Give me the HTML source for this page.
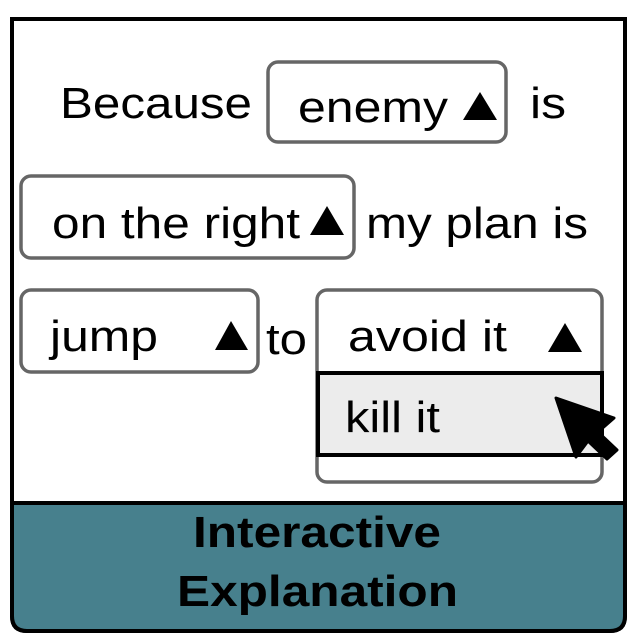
<!DOCTYPE html>
<html><head><style>html,body{margin:0;padding:0;background:#fff;}svg{display:block}</style></head>
<body>
<svg width="641" height="644" xmlns="http://www.w3.org/2000/svg" font-family="Liberation Sans, sans-serif">
<path d="M12,19 H625 V616 Q625,631 610,631 H27 Q12,631 12,616 Z" fill="#fff" stroke="#000" stroke-width="4"/>
<path d="M12,503 H625 V616 Q625,631 610,631 H27 Q12,631 12,616 Z" fill="#47808d" stroke="#000" stroke-width="4"/>
<text x="193" y="547" font-size="44" font-weight="bold" textLength="248" lengthAdjust="spacingAndGlyphs">Interactive</text>
<text x="177" y="606" font-size="44" font-weight="bold" textLength="281" lengthAdjust="spacingAndGlyphs">Explanation</text>

<g font-size="44" fill="#000">
<text x="60" y="118" textLength="192" lengthAdjust="spacingAndGlyphs">Because</text>
<rect x="268" y="62" width="238" height="80" rx="10" fill="#fff" stroke="#666" stroke-width="3.5"/>
<text x="298" y="122" textLength="150" lengthAdjust="spacingAndGlyphs">enemy</text>
<polygon points="463,120 480,92 497,120"/>
<text x="530" y="118" textLength="36" lengthAdjust="spacingAndGlyphs">is</text>

<rect x="21" y="176" width="333" height="82" rx="10" fill="#fff" stroke="#666" stroke-width="3.5"/>
<text x="52" y="238" textLength="248" lengthAdjust="spacingAndGlyphs">on the right</text>
<polygon points="310,235 327,206 344,235"/>
<text x="366" y="238" textLength="222" lengthAdjust="spacingAndGlyphs">my plan is</text>

<rect x="21" y="290" width="237" height="82" rx="10" fill="#fff" stroke="#666" stroke-width="3.5"/>
<text x="50" y="351" textLength="108" lengthAdjust="spacingAndGlyphs">jump</text>
<polygon points="215,350 231,321 248,350"/>
<text x="266" y="354" textLength="41" lengthAdjust="spacingAndGlyphs">to</text>

<rect x="317" y="290" width="285" height="192" rx="10" fill="#fff" stroke="#666" stroke-width="3.5"/>
<text x="348" y="351" textLength="159" lengthAdjust="spacingAndGlyphs">avoid it</text>
<polygon points="548,352 565,323 582,352"/>
<rect x="318" y="373" width="284" height="82" fill="#ececec" stroke="#000" stroke-width="4"/>
<text x="345" y="432" textLength="95" lengthAdjust="spacingAndGlyphs">kill it</text>
<polygon points="556,398 614,418 598,432 617,450 607,459 588,441 576,457" fill="#000" stroke="#000" stroke-width="3" stroke-linejoin="round"/>
</g>
</svg>
</body></html>
